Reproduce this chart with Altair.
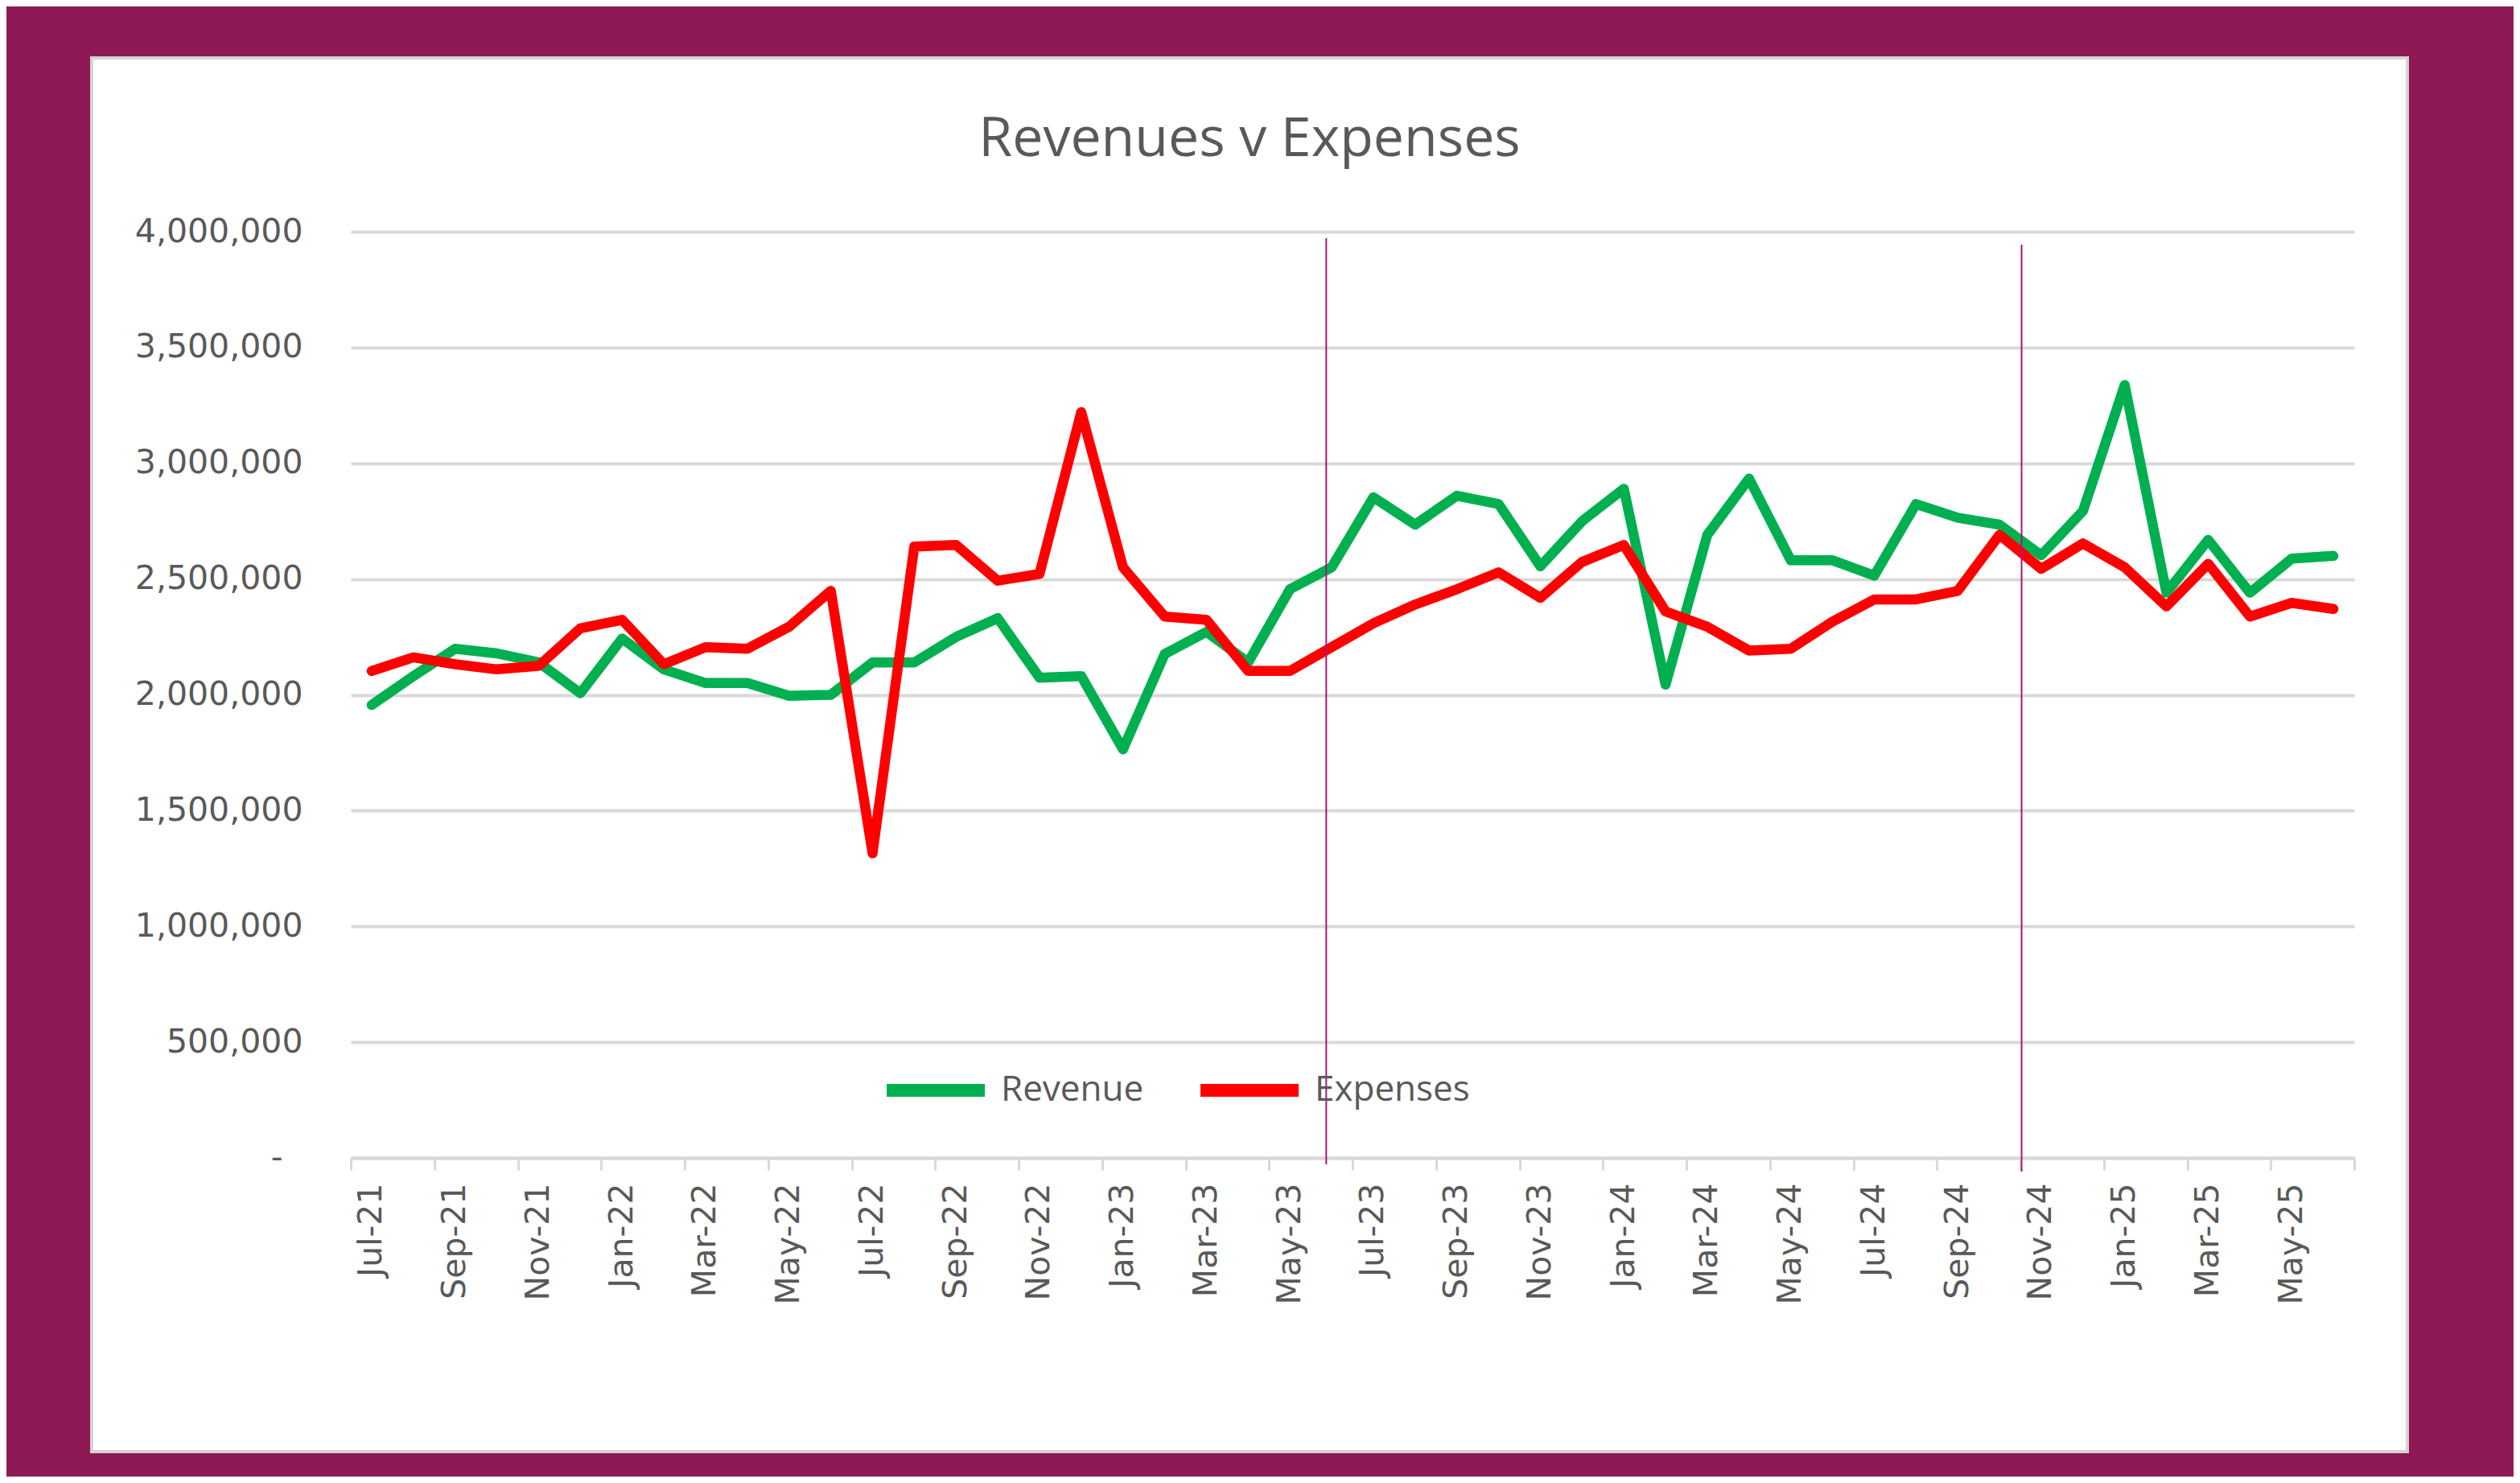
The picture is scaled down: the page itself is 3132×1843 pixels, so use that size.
import altair as alt
import pandas as pd

# ---- data ----
months = [
    "Jul-21", "Aug-21", "Sep-21", "Oct-21", "Nov-21", "Dec-21",
    "Jan-22", "Feb-22", "Mar-22", "Apr-22", "May-22", "Jun-22",
    "Jul-22", "Aug-22", "Sep-22", "Oct-22", "Nov-22", "Dec-22",
    "Jan-23", "Feb-23", "Mar-23", "Apr-23", "May-23", "Jun-23",
    "Jul-23", "Aug-23", "Sep-23", "Oct-23", "Nov-23", "Dec-23",
    "Jan-24", "Feb-24", "Mar-24", "Apr-24", "May-24", "Jun-24",
    "Jul-24", "Aug-24", "Sep-24", "Oct-24", "Nov-24", "Dec-24",
    "Jan-25", "Feb-25", "Mar-25", "Apr-25", "May-25", "Jun-25",
]

revenue = [
    1956000, 2081000, 2199000, 2179000, 2140000, 2007000,
    2243000, 2110000, 2051000, 2051000, 1996000, 2000000,
    2140000, 2140000, 2250000, 2331000, 2074000, 2081000,
    1765000, 2176000, 2272000, 2140000, 2456000, 2551000,
    2853000, 2735000, 2860000, 2824000, 2555000, 2750000,
    2890000, 2044000, 2691000, 2934000, 2581000, 2581000,
    2515000, 2824000, 2765000, 2735000, 2603000, 2794000,
    3338000, 2441000, 2669000, 2441000, 2588000, 2600000,
]

expenses = [
    2103000, 2162000, 2132000, 2110000, 2125000, 2287000,
    2324000, 2132000, 2206000, 2199000, 2294000, 2449000,
    1316000, 2640000, 2647000, 2493000, 2522000, 3221000,
    2551000, 2338000, 2324000, 2103000, 2103000, 2206000,
    2309000, 2390000, 2456000, 2529000, 2419000, 2574000,
    2647000, 2360000, 2294000, 2191000, 2199000, 2316000,
    2412000, 2412000, 2449000, 2691000, 2544000, 2654000,
    2551000, 2382000, 2566000, 2338000, 2397000, 2371000,
]

series_names = ["Revenue", "Expenses"]
series_colors = ["#00B050", "#FF0000"]

# two vertical divider lines (position in month-slot units from the left edge)
divider_pos = [23.37, 40.03]
divider_top = [3972000, 3944000]
divider_bottom = [-28000, -59000]

y_ticks = [0, 500000, 1000000, 1500000, 2000000, 2500000, 3000000, 3500000, 4000000]

# ---- tables ----
rows = []
for name, vals in zip(series_names, [revenue, expenses]):
    for i, (m, v) in enumerate(zip(months, vals)):
        rows.append({"pos": i + 0.5, "month": m, "series": name, "value": v})
df = pd.DataFrame(rows)

vdf = pd.DataFrame({"vx": divider_pos, "top": divider_top, "bottom": divider_bottom})

# ---- layout ----
W, H = 2490, 1151
n = len(months)
MAROON = "#8E1955"
TEXT = "#595959"
GRID = "#D9D9D9"

label_js = "[" + ",".join("'" + m + "'" for m in months) + "]"

x_axis = alt.Axis(
    values=list(range(0, n + 1, 2)),
    labelExpr=f"datum.value < {n} ? {label_js}[datum.value] : ''",
    labelOffset=W / n / 2,
    labelAngle=270,
    labelAlign="right",
    labelBaseline="middle",
    labelPadding=16,
    labelFont="DejaVu Sans",
    labelFontSize=41,
    labelColor=TEXT,
    labelFlush=False,
    labelOverlap=False,
    labelBound=False,
    labelLimit=0,
    ticks=True,
    tickSize=15,
    tickColor=GRID,
    tickWidth=3,
    domainColor=GRID,
    domainWidth=4,
    grid=False,
    title=None,
)

y_axis = alt.Axis(
    values=y_ticks,
    labelExpr="datum.value == 0 ? '-' : format(datum.value, ',')",
    labelFont="DejaVu Sans",
    labelFontSize=41,
    labelColor=TEXT,
    labelPadding={"condition": {"test": "datum.value == 0", "value": 85}, "value": 60},
    labelLimit=0,
    ticks=False,
    domain=False,
    grid=True,
    gridColor=GRID,
    gridWidth=4,
    title=None,
)

x_scale = alt.Scale(domain=[0, n], nice=False, zero=False)
y_scale = alt.Scale(domain=[0, 4000000], nice=False)

lines = alt.Chart(df).mark_line(
    strokeWidth=12.5, strokeCap="round", strokeJoin="round"
).encode(
    x=alt.X("pos:Q", scale=x_scale, axis=x_axis, title=None),
    y=alt.Y("value:Q", scale=y_scale, axis=y_axis, title=None),
    color=alt.Color(
        "series:N",
        scale=alt.Scale(domain=series_names, range=series_colors),
        legend=alt.Legend(
            title=None,
            orient="none",
            legendX=658,
            legendY=998,
            direction="horizontal",
            symbolType="stroke",
            symbolSize=14884,
            symbolStrokeWidth=16,
            labelFont="Open Sans",
            labelFontSize=44,
            labelColor=TEXT,
            labelOffset=12,
            labelLimit=0,
            columnPadding=38,
            padding=0,
        ),
    ),
)

vrules = alt.Chart(vdf).mark_rule(color="#A8177A", strokeWidth=2).encode(
    x=alt.X("vx:Q", scale=x_scale, axis=x_axis, title=None),
    y=alt.Y("top:Q", scale=y_scale, axis=y_axis, title=None),
    y2="bottom:Q",
)

# maroon frame around the white chart panel (decoration)
one = alt.Data(values=[{"p": 1}])
frame_top = alt.Chart(one).mark_rect(fill=MAROON).encode(
    x=alt.value(-430), x2=alt.value(2690), y=alt.value(-282), y2=alt.value(-216))
frame_bottom = alt.Chart(one).mark_rect(fill=MAROON).encode(
    x=alt.value(-430), x2=alt.value(2690), y=alt.value(1516), y2=alt.value(1549))
frame_left = alt.Chart(one).mark_rect(fill=MAROON).encode(
    x=alt.value(-430), x2=alt.value(-322), y=alt.value(-216), y2=alt.value(1516))
frame_right = alt.Chart(one).mark_rect(fill=MAROON).encode(
    x=alt.value(2556), x2=alt.value(2690), y=alt.value(-216), y2=alt.value(1516))
panel_border = alt.Chart(one).mark_rect(
    fill="white", fillOpacity=0, stroke="#D4D4D4", strokeWidth=4
).encode(x=alt.value(-322), x2=alt.value(2556), y=alt.value(-216), y2=alt.value(1516))

chart = alt.layer(
    lines, vrules, frame_top, frame_bottom, frame_left, frame_right, panel_border
).properties(
    width=W,
    height=H,
    title=alt.TitleParams(
        "Revenues v Expenses",
        anchor="middle",
        frame="group",
        dx=-128,
        dy=256,
        offset=0,
        baseline="alphabetic",
        font="Open Sans",
        fontSize=68,
        fontWeight="normal",
        color=TEXT,
    ),
    padding={"left": 428, "top": 280, "right": 198, "bottom": 396},
    autosize=alt.AutoSizeParams(type="none"),
).configure(
    background="white"
).configure_view(
    stroke=None
)

chart.save("out.html", embed_options={"renderer": "svg", "actions": False})
